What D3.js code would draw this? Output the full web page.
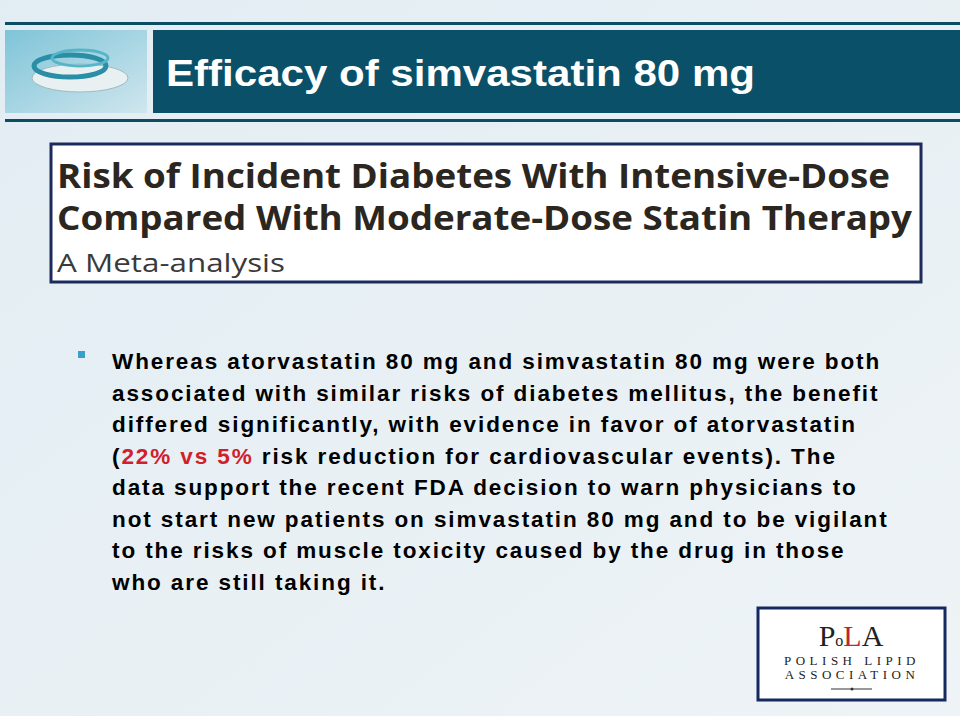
<!DOCTYPE html>
<html><head><meta charset="utf-8">
<script src="https://cdn.jsdelivr.net/npm/d3@7"></script>
<style>body{margin:0;background:#e6eff4}svg{display:block}</style>
</head><body><svg id="slide" width="960" height="716"></svg>
<script>
const titleText = "Efficacy of simvastatin 80 mg";
const headerLines = ["Risk of Incident Diabetes With Intensive-Dose", "Compared With Moderate-Dose Statin Therapy", "A Meta-analysis"];
// each line is a list of [text, highlighted?] pieces
const bodyLines = [
  [["Whereas atorvastatin 80 mg and simvastatin 80 mg were both", false]],
  [["associated with similar risks of diabetes mellitus, the benefit", false]],
  [["differed significantly, with evidence in favor of atorvastatin", false]],
  [["(", false], ["22% vs 5%", true], [" risk reduction for cardiovascular events). The", false]],
  [["data support the recent FDA decision to warn physicians to", false]],
  [["not start new patients on simvastatin 80 mg and to be vigilant", false]],
  [["to the risks of muscle toxicity caused by the drug in those", false]],
  [["who are still taking it.", false]]
];
const logoLines = ["POLISH LIPID", "ASSOCIATION"];

const svg = d3.select("#slide");
const bg = svg.append("defs").append("linearGradient").attr("id", "bg").attr("x1", 0).attr("x2", 1).attr("y1", 0).attr("y2", 1);
bg.append("stop").attr("offset", 0).attr("stop-color", "#e2edf3");
bg.append("stop").attr("offset", 1).attr("stop-color", "#eef3f6");
svg.append("rect").attr("width", 960).attr("height", 716).attr("fill", "url(#bg)");

// header bars
svg.append("rect").attr("x", 5).attr("y", 22).attr("width", 955).attr("height", 3).attr("fill", "#0b4d63");
svg.append("rect").attr("x", 5).attr("y", 119).attr("width", 955).attr("height", 3).attr("fill", "#0b4d63");
svg.append("rect").attr("x", 153).attr("y", 30).attr("width", 807).attr("height", 83).attr("fill", "#0a5068");

// picture box with lens
const lg = svg.append("defs").append("linearGradient").attr("id", "pic").attr("x1", 0).attr("x2", 1).attr("y1", 0).attr("y2", 1);
lg.append("stop").attr("offset", 0).attr("stop-color", "#7fc4d8");
lg.append("stop").attr("offset", 1).attr("stop-color", "#cfe6ee");
svg.append("rect").attr("x", 5).attr("y", 30).attr("width", 142).attr("height", 83).attr("fill", "url(#pic)");
svg.append("ellipse").attr("cx", 80).attr("cy", 78).attr("rx", 48).attr("ry", 14).attr("fill", "#e8f0f2").attr("stroke", "#9fb9c2");
svg.append("ellipse").attr("cx", 70).attr("cy", 66).attr("rx", 36).attr("ry", 11).attr("fill", "none").attr("stroke", "#2a8fa6").attr("stroke-width", 5);
svg.append("ellipse").attr("cx", 80).attr("cy", 58).attr("rx", 28).attr("ry", 8).attr("fill", "none").attr("stroke", "#57b5c8").attr("stroke-width", 3);

svg.append("text").attr("x", 166).attr("y", 86).attr("fill", "#fff")
  .attr("font-family", "Liberation Sans, Arial, sans-serif").attr("font-weight", "bold").attr("font-size", 37)
  .attr("textLength", 589).attr("lengthAdjust", "spacingAndGlyphs")
  .text(titleText);

// article header box
svg.append("rect").attr("x", 51).attr("y", 144).attr("width", 870).attr("height", 138)
  .attr("fill", "#fff").attr("stroke", "#1c2a5c").attr("stroke-width", 3);
const hy = d3.scalePoint().domain(d3.range(headerLines.length)).range([188, 272]);
svg.selectAll("text.hdr").data(headerLines).join("text").attr("class", "hdr")
  .attr("x", 57).attr("y", (d, i) => hy(i))
  .attr("font-family", "Open Sans, DejaVu Sans Condensed, sans-serif")
  .attr("font-weight", (d, i) => i < 2 ? "bold" : "normal")
  .attr("font-size", (d, i) => i < 2 ? 34 : 26)
  .attr("textLength", (d, i) => i < 2 ? (i === 0 ? 833 : 855) : 228).attr("lengthAdjust", "spacingAndGlyphs")
  .attr("fill", (d, i) => i < 2 ? "#2b2620" : "#3a3a3a").text(d => d);

// bullet
svg.append("rect").attr("x", 78).attr("y", 351).attr("width", 7).attr("height", 7).attr("fill", "#3aa0c8");

const by = d3.scaleLinear().domain([0, bodyLines.length - 1]).range([369, 590]);
const body = svg.selectAll("text.body").data(bodyLines).join("text").attr("class", "body")
  .attr("x", 112).attr("y", (d, i) => by(i))
  .attr("font-family", "Liberation Sans, Arial, sans-serif").attr("font-weight", "bold").attr("font-size", 22.5)
  .attr("letter-spacing", 1.9).attr("fill", "#000");
body.selectAll("tspan").data(d => d).join("tspan")
  .attr("fill", d => d[1] ? "#d0202a" : "#000").text(d => d[0]);

// association logo
svg.append("rect").attr("x", 758).attr("y", 608).attr("width", 187).attr("height", 92)
  .attr("fill", "#fff").attr("stroke", "#152860").attr("stroke-width", 3);
const mark = svg.append("text").attr("x", 851).attr("y", 646).attr("text-anchor", "middle")
  .attr("font-family", "Liberation Serif, serif").attr("font-size", 30).attr("fill", "#222");
mark.append("tspan").text("P");
mark.append("tspan").attr("font-size", 16).text("o");
mark.append("tspan").attr("fill", "#b8282e").text("L");
mark.append("tspan").text("A");
svg.selectAll("text.logo").data(logoLines).join("text").attr("class", "logo")
  .attr("x", 852).attr("y", (d, i) => 665 + i * 14).attr("text-anchor", "middle")
  .attr("font-family", "Liberation Serif, serif").attr("font-size", 13).attr("letter-spacing", 4.5)
  .attr("fill", "#222").text(d => d);
svg.append("line").attr("x1", 831).attr("x2", 872).attr("y1", 689).attr("y2", 689).attr("stroke", "#333");
svg.append("circle").attr("cx", 852).attr("cy", 689).attr("r", 1.5).attr("fill", "#333");
</script></body></html>
